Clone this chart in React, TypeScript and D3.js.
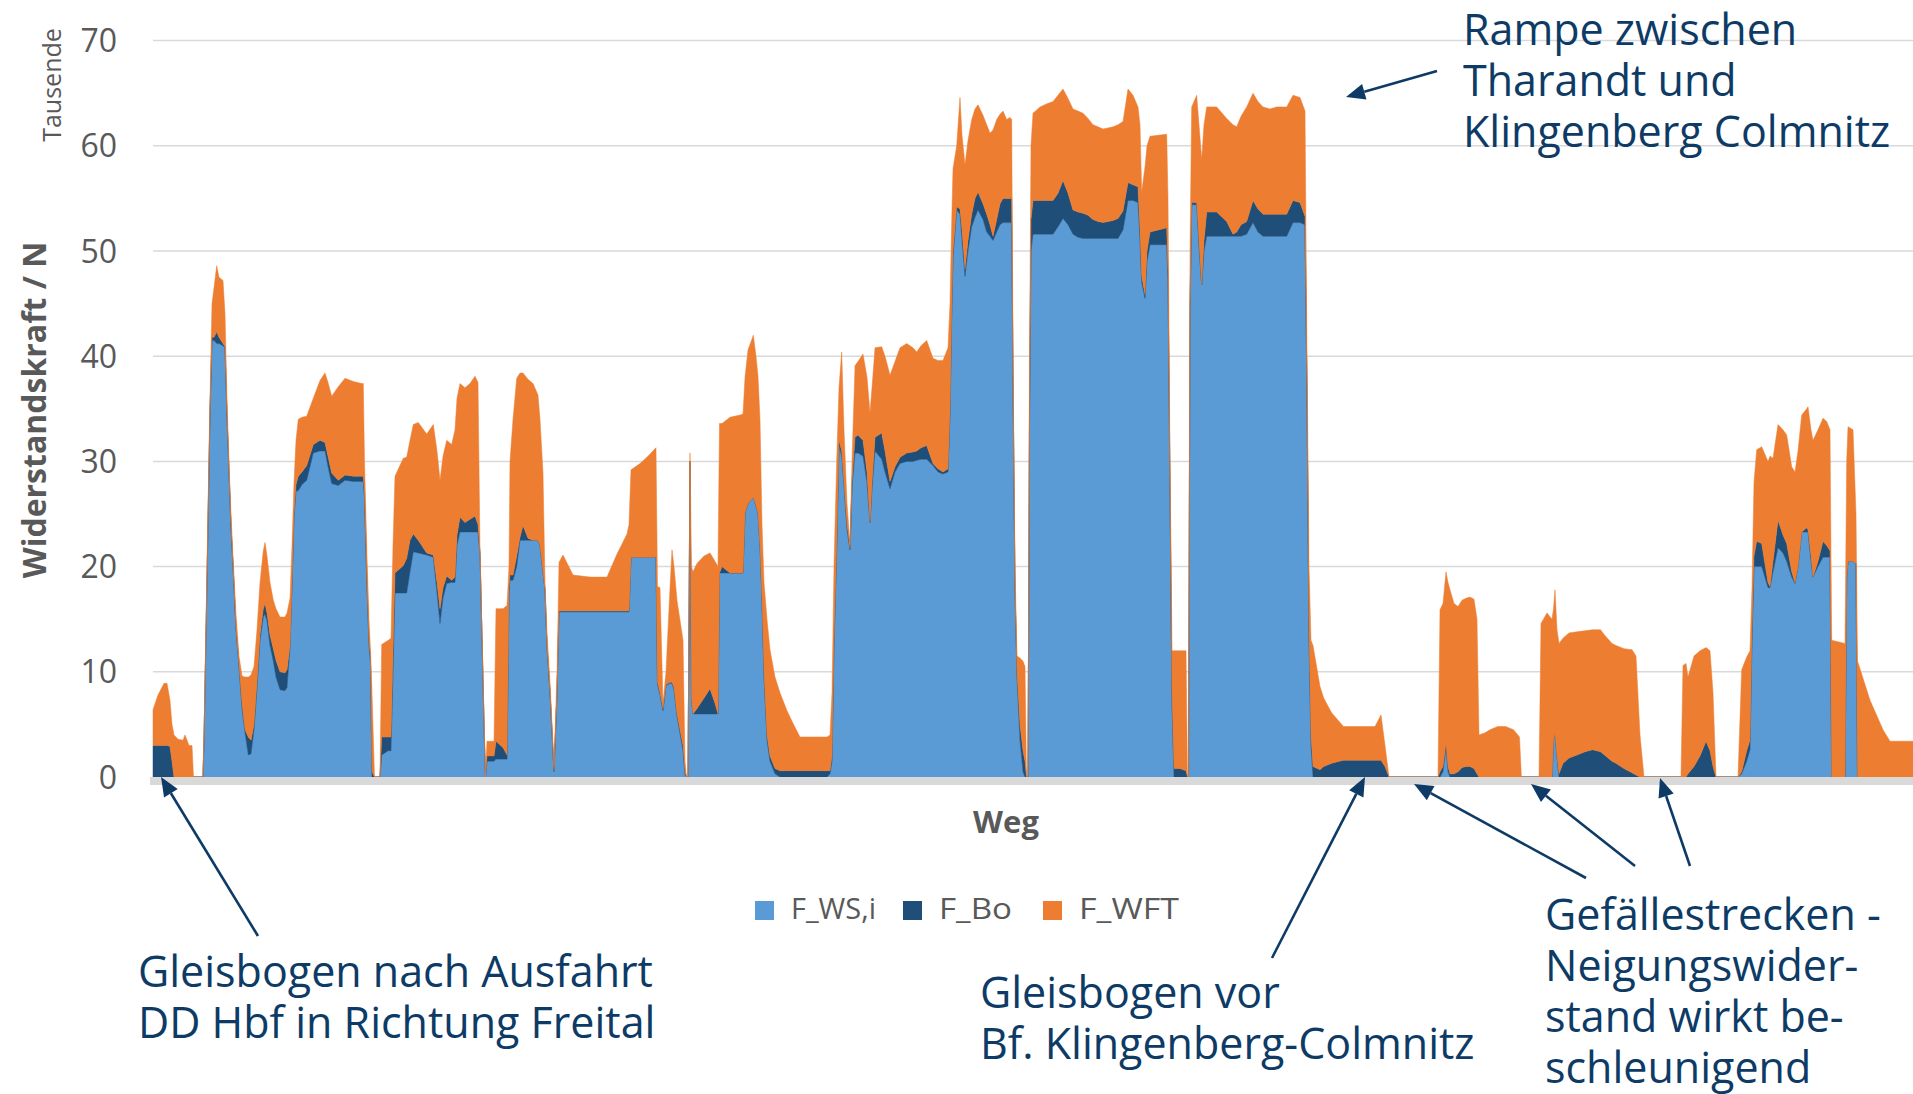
import React, { useEffect } from "react";
import * as d3 from "d3";

// ---------- data (values in thousands of N, "Tausende") ----------
const yTicks = [0, 10, 20, 30, 40, 50, 60, 70];
const seriesNames = ["F_WS,i", "F_Bo", "F_WFT"];
const seriesColors = ["#5b9bd5", "#1f4e79", "#ed7d31"];

const weg = [
  0, 5, 11, 14, 17, 19, 21, 25, 30, 32, 36, 39, 40.5, 50,
  51, 54, 57, 59, 61, 63.7, 66, 70, 72, 74,
  76.3, 78, 80, 83, 86, 89, 92, 95.3, 98, 101,
  104, 107, 110.3, 112, 114, 117, 120.3, 123, 127, 132,
  134, 137, 139, 141, 143, 145.3, 149, 153.7, 160.3, 167,
  172, 175, 178.7, 185.3, 192, 200.3, 208.7, 210.3, 211.5, 214,
  216, 217.5, 219, 221.5, 227,
  228.7, 235.3, 238, 240, 242, 250.3, 253.7, 257, 260.3, 265.3,
  273.7, 280.3, 284, 287, 290, 293.7, 298.7, 302, 304, 307,
  312, 317, 322, 325, 327, 330, 331.5, 332.5,
  334, 341, 343, 350, 354, 356, 357, 360, 363.7, 367, 370,
  375, 380, 385, 387, 390, 392, 394, 397, 401, 404, 406,
  410, 420, 437, 454, 464, 474, 476, 478, 487, 495,
  503, 504.5, 507, 510, 513, 517, 519, 521, 524, 530,
  532, 533.5, 535, 537, 538.5, 540, 544, 551, 557, 562,
  565, 566.5, 569, 577, 587, 590, 592, 595, 600.3, 603,
  605, 607, 609, 611, 614, 617, 622, 627, 634, 640,
  647, 662, 674, 677, 679, 681, 683.7, 686, 688.7, 691,
  694, 697, 699, 702, 705, 710, 714, 717, 719, 722,
  728.7, 732, 737, 742, 747, 753.7, 760, 763.7, 768, 773.7,
  780, 785, 790, 795, 797, 799, 800, 803.7, 807, 809,
  812, 815, 818.7, 822, 825, 830, 833.7, 837, 840, 843.7,
  847, 850, 853.7, 857, 858.7, 860, 862, 864, 867, 870,
  872, 873.5, 875, 876.5, 878, 880, 887, 894, 900, 905,
  910, 915, 920, 925, 930, 935, 940, 945, 950, 955,
  960, 965, 970, 975, 980, 985, 987, 988.7, 992, 994,
  997, 1005, 1013.7, 1015, 1017, 1019, 1021, 1027, 1033, 1034.5,
  1035.5, 1037, 1038.7, 1043.7, 1046, 1048.7, 1051, 1053.7, 1063.7, 1073.7,
  1080, 1083.7, 1088, 1093.7, 1100, 1105, 1110, 1117, 1123.7, 1133.7,
  1140, 1147, 1152, 1154, 1156, 1158, 1160, 1167, 1170.7, 1178.6,
  1190.5, 1207, 1222, 1228, 1232, 1236, 1285, 1287,
  1290, 1293, 1295, 1297, 1301, 1305, 1309, 1313, 1317, 1321,
  1324, 1326, 1332, 1337, 1344.7, 1352.6, 1360.5, 1366.5, 1368.4, 1386,
  1388, 1394, 1399, 1400.5, 1402, 1404, 1406, 1410, 1416, 1424,
  1432, 1439.6, 1447.5, 1451.5, 1459, 1463, 1471, 1479, 1483, 1487,
  1491, 1528, 1530, 1533, 1535, 1541, 1547, 1553, 1557, 1560, 1563, 1585,
  1588.7, 1593.7, 1597, 1599, 1601, 1603.7, 1608.7, 1615, 1617, 1620,
  1625, 1630, 1633.7, 1638.7, 1642, 1645, 1648.7, 1653.7, 1655, 1658,
  1660, 1665, 1670, 1673.7, 1677, 1678.7, 1692, 1693.7, 1695, 1700,
  1703, 1704.5, 1705.3, 1717, 1730, 1737, 1760,
];

const fWS = [
  0, 0, 0, 0, 0, 0, 0, 0, 0, 0, 0, 0, 0, 0,
  3.5, 18.5, 34.5, 41.5, 41.5, 41.2, 41.2, 41.0, 40.8, 34,
  28.2, 23.5, 20, 14, 10.5, 6.5, 4.2, 2.1, 2.2, 4.5,
  8.5, 13, 15.2, 15.5, 14.8, 12.5, 11.0, 9.5, 8.3, 8.2,
  8.5, 12.3, 18.3, 24.8, 27.2, 27.2, 27.8, 28.2, 30.8, 31.0,
  31.0, 29.5, 27.9, 27.7, 28.2, 28.1, 28.1, 28.1, 26.5, 18,
  12.5, 10.8, 0, 0, 0,
  2.1, 2.5, 2.5, 10, 17.5, 17.5, 17.5, 19.5, 21.4, 21.3,
  21.1, 20.9, 17.5, 14.6, 17, 18.4, 18.5, 18.5, 22, 23.3,
  23.3, 23.3, 23.3, 23.3, 21.2, 9.0, 3.0, 0,
  1.5, 1.5, 1.7, 1.7, 1.7, 17.5, 18.7, 18.7, 20, 22.5, 22.5,
  22.5, 22.5, 22.5, 22, 19.5, 17.8, 12.3, 8.0, 0.5, 8, 15.7,
  15.7, 15.7, 15.7, 15.7, 15.7, 15.7, 15.7, 20.9, 20.9, 20.9,
  20.9, 8.8, 7.8, 6.3, 8.7, 8.9, 8.9, 8.3, 5.8, 2.5,
  0.2, 0, 0, 30.0, 7.5, 6.0, 6.0, 6.0, 6.0, 6.0,
  6.0, 19.4, 19.4, 19.4, 19.4, 19.4, 25.1, 26, 26.6, 25.8,
  25.1, 22, 17, 9.5, 3.5, 1.5, 0.3, 0, 0, 0,
  0, 0, 0, 0.3, 1.5, 12.5, 21.7, 31.5, 30.5, 27.8,
  23.5, 21.6, 27.5, 30.8, 30.8, 30.5, 28, 24.2, 27.5, 31.0,
  30.2, 29, 27.4, 29, 29.8, 30.0, 30.0, 30.1, 30.2, 30.2,
  29.6, 29.0, 28.8, 29.0, 34.5, 45.5, 49.5, 53.9, 53.5, 51,
  47.6, 50, 52.3, 53.2, 53.9, 53.0, 51.8, 51.4, 51.0, 51.8,
  52.5, 52.7, 52.7, 52.7, 52.7, 37.5, 17.5, 9.5, 3.5, 0.5,
  0, 0, 0, 34, 50, 51.6, 51.6, 51.6, 51.6, 52.3,
  53.1, 52.5, 51.6, 51.3, 51.2, 51.2, 51.2, 51.2, 51.2, 51.2,
  51.2, 51.2, 52.0, 54.8, 54.8, 54.6, 51, 47, 45.5, 49,
  50.6, 50.6, 50.6, 47, 27, 7, 0, 0, 0, 0,
  0, 44, 54.4, 54.4, 50.5, 46.8, 50, 51.4, 51.4, 51.4,
  51.4, 51.4, 51.4, 51.6, 52.7, 51.8, 51.4, 51.4, 51.4, 51.4,
  52.7, 52.7, 52.5, 36, 13, 3, 0, 0, 0, 0,
  0, 0, 0, 0, 0, 0, 0, 0,
  0.5, 2.9, 0.5, 0, 0, 0, 0, 0, 0, 0,
  0, 0, 0, 0, 0, 0, 0, 0, 0, 0,
  0, 0, 0, 3.5, 4.1, 2, 0, 0, 0, 0,
  0, 0, 0, 0, 0, 0, 0, 0, 0, 0,
  0, 0, 0, 0, 0, 0, 0, 0, 0, 0, 0, 0,
  0.3, 1.5, 2.6, 13, 20, 20.0, 20.0, 18.0, 18.0, 19.5,
  21.8, 21.3, 20.5, 19, 18.4, 20, 23.3, 23.3, 23.3, 20.5,
  19.0, 20.0, 20.9, 20.9, 20.9, 0, 0, 19, 20.5, 20.5,
  20.3, 0, 0, 0, 0, 0, 0,
];

const fBo = [
  3.0, 3.0, 3.0, 3.0, 2.9, 1.5, 0, 0, 0, 0, 0, 0, 0, 0,
  0, 0.5, 0.5, 0.3, 0.3, 1.1, 0.6, 0.2, 0.1, 0.5,
  0.2, 0.5, 0.2, 0.2, 0.2, 0.5, 0.3, 1.7, 1.3, 0.5,
  0.5, 0.5, 0.8, 1.0, 0.8, 1.0, 1.2, 1.6, 1.7, 1.7,
  1.7, 0.2, 0.2, 0.2, 0.6, 1.4, 1.2, 1.4, 0.8, 1.0,
  0.8, 1.0, 1.0, 0.5, 0.5, 0.5, 0.5, 0.5, 0.5, 0.5,
  0.5, 0.5, 0.5, 0, 0,
  1.7, 1.3, 1.3, 2, 1.9, 2.6, 3.3, 3.0, 1.7, 1.2,
  0.2, 0.2, 1.0, 1.4, 1.0, 0.7, 0.2, 0.5, 1.0, 1.4,
  0.9, 1.2, 1.5, 0.7, 0.1, 0.3, 0.2, 0,
  0.5, 0.5, 1.7, 1.1, 0.4, 0.5, 0.5, 0.5, 1.0, 0.3, 1.4,
  0.2, 0, 0, 0, 0, 0, 0.2, 0.2, 0.1, 0, 0.1,
  0.1, 0.1, 0.1, 0.1, 0.1, 0.1, 0.1, 0, 0, 0,
  0, 0.2, 0.2, 0.2, 0.1, 0.1, 0.1, 0.2, 0.2, 0.5,
  0.3, 0, 0, 0, 0, 0, 0.5, 1.5, 2.4, 1.0,
  0, 0, 0.6, 0, 0, 0, 0, 0, 0, 0,
  0, 0, 0, 0.5, 0.5, 0.5, 0.5, 0.6, 0.6, 0.6,
  0.6, 0.6, 0.6, 0.3, 0.5, 0.5, 0.3, 0.5, 0.5, 0.2,
  0.5, 0.2, 0.5, 1.5, 1.7, 1.5, 1.0, 0, 0.5, 1.3,
  2.5, 2.0, 0.7, 0.5, 0.6, 0.8, 0.9, 0.9, 1.1, 1.3,
  0.2, 0.3, 0.2, 0.3, 0.5, 0.5, 0.5, 0.3, 0.5, 1.0,
  0.7, 1.0, 1.2, 1.8, 1.7, 1.5, 1.7, 1.1, 0.4, 1.2,
  2.0, 2.3, 2.3, 2.3, 2.3, 0.5, 0.5, 0.5, 1.5, 2.0,
  1.5, 0, 0, 1, 3, 3.2, 3.2, 3.2, 3.2, 3.2,
  3.6, 3.0, 2.3, 2.4, 2.4, 2.2, 1.8, 1.6, 1.5, 1.6,
  1.7, 1.9, 1.8, 1.7, 1.5, 1.5, 1.0, 0.6, 0.4, 1.0,
  1.2, 1.4, 1.6, 1, 1, 1, 0.8, 0.8, 0.6, 0,
  0, 1, 0.2, 0.2, 0.5, 0, 1, 2.3, 2.3, 1.4,
  0.2, 0.4, 1.1, 1.2, 2.1, 2.2, 2.1, 2.1, 2.1, 2.1,
  2.1, 1.9, 0.8, 1, 1, 1, 1.0, 0.7, 1.0, 1.3,
  1.6, 1.6, 1.6, 1.6, 1.0, 0, 0, 0.5,
  0.5, 0.3, 0.5, 0.3, 0.3, 0.5, 0.9, 1.0, 1.0, 0.8,
  0.3, 0, 0, 0, 0, 0, 0, 0, 0, 0,
  0, 0, 0, 0, 0, 0, 0.3, 1.3, 1.8, 2.1,
  2.4, 2.6, 2.4, 2.1, 1.5, 1.3, 0.8, 0.4, 0.2, 0,
  0, 0, 0, 0, 0.3, 1.0, 2.0, 3.4, 2.5, 1, 0, 0,
  0.2, 1.0, 0.9, 1, 1, 2.4, 2.2, 0.5, 0.1, 1.0,
  2.6, 1.7, 1.7, 0.5, 0.1, 0, 0, 0.4, 0.2, 0.5,
  0, 0.5, 1.5, 1.1, 0.6, 0, 0, 0, 0, 0,
  0, 0, 0, 0, 0, 0, 0,
];

const fWFT = [
  3.4, 4.8, 5.9, 5.9, 4.4, 3.5, 4.0, 3.6, 3.5, 4.0, 3.0, 3.0, 0, 0,
  0.5, 1.0, 1.0, 3.2, 4.7, 6.3, 5.7, 6.0, 3.1, 1.5,
  0.6, 1.0, 0.8, 1.3, 0.8, 2.6, 5.0, 5.7, 6.2, 5.5,
  5.0, 5.0, 5.5, 5.8, 5.4, 5.0, 4.6, 4.9, 5.2, 5.3,
  5.4, 4.5, 3.5, 3.0, 4.2, 5.4, 5.2, 4.7, 4.4, 5.7,
  6.6, 7.0, 7.3, 8.9, 9.2, 9.0, 8.8, 8.8, 3.0, 2.5,
  2.0, 0.7, 7.5, 0, 0,
  8.8, 9.2, 9.4, 10, 9.2, 10.2, 9.6, 9.5, 10.4, 11.2,
  11.3, 12.4, 12.5, 12.2, 12.5, 12.9, 12.9, 14.0, 13.0, 12.7,
  12.8, 12.9, 13.3, 13.5, 0.2, 0.3, 0.3, 0,
  1.4, 1.4, 12.6, 13.2, 14.2, 2, 10.8, 14.8, 16.9, 15.6, 14.5,
  15.1, 14.9, 13.8, 12, 9.4, 0.7, 1.2, 0.8, 0.4, 2, 4.6,
  5.3, 3.4, 3.2, 3.2, 5.4, 7.3, 8.2, 8.3, 8.9, 9.6,
  10.4, 9.1, 10.0, 0.5, 1.2, 9.0, 12.6, 11.5, 10.8, 10.0,
  1.0, 0, 0, 0.8, 12.5, 13.5, 13.8, 13.5, 12.9, 13.5,
  14.0, 14.2, 13.6, 14.8, 15.0, 15.1, 12.9, 14.6, 15.4, 14.2,
  13.0, 12, 7, 8.5, 11, 10.1, 8.7, 7.4, 5.7, 4.5,
  3.2, 3.2, 3.2, 3.4, 6, 7, 8.0, 5.0, 9.4, 5.0,
  2.0, 0.3, 2.0, 6.8, 7.0, 8.2, 9.0, 10.4, 9.0, 8.5,
  8.2, 9.0, 10.1, 10.0, 10.4, 10.4, 9.9, 9.4, 9.7, 10.0,
  10.0, 10.3, 10.6, 11.5, 10, 8, 7.8, 5.8, 10.6, 9.0,
  9.9, 9.5, 9.0, 8.5, 8.3, 8.4, 8.5, 8.7, 10.1, 9.5,
  8.5, 8.3, 7.5, 7.7, 7.5, 2, 2, 1.5, 6.3, 8.5,
  9.0, 0, 0, 5, 7, 8.3, 8.9, 9.2, 9.4, 9.3,
  8.7, 9.0, 9.6, 9.6, 9.5, 9.2, 9.0, 9.0, 8.9, 8.9,
  8.9, 8.9, 8.5, 8.9, 8.5, 7.6, 10, 8.0, 12.1, 10,
  9.1, 9.0, 8.9, 7, 2, 4, 11.2, 11.2, 11.4, 0,
  0, 5, 9.1, 10.2, 11, 11.9, 11, 10.0, 10.0, 9.8,
  10.4, 10.0, 10.3, 10.9, 10.2, 10.2, 10.2, 10.0, 10.2, 10.2,
  10.0, 10.0, 10.0, 3, 6, 9, 11.5, 7.9, 6.5, 4.8,
  3.2, 3.2, 3.2, 4.3, 2.0, 0, 0, 15.4,
  15.5, 16.3, 17.5, 17.5, 16.2, 15.7, 15.9, 16.0, 16.1, 16.1,
  14.7, 4.0, 4.2, 4.5, 4.8, 4.8, 4.5, 3.8, 0, 0,
  14.6, 15.6, 15.0, 12.5, 13.7, 12, 12.4, 11.9, 11.9, 11.7,
  11.5, 11.4, 11.6, 11.4, 11.2, 11.2, 11.4, 11.7, 11.3, 4.0,
  0, 0, 10.6, 10.8, 9.2, 10.5, 10.0, 8.9, 9.5, 7, 0, 0,
  9.7, 8.9, 8.5, 4, 7, 8.7, 9.2, 11.5, 12.4, 9.8,
  9.1, 10.0, 10.3, 10.0, 10.5, 11, 11.1, 11.3, 11.7, 12,
  13.0, 12.5, 11.7, 11.8, 11.5, 13, 12.7, 11, 12.8, 12.5,
  4.7, 11, 10.8, 7.3, 4.5, 3.4, 3.4,
];

// ---------- annotations ----------
const NAVY = "#0d3b66";
const GRAY = "#595959";
const FONT = "'Open Sans', 'Noto Sans', sans-serif";

const annotations = [
  { x: 1463, y: 45, lines: ["Rampe zwischen", "Tharandt und", "Klingenberg Colmnitz"] },
  { x: 138, y: 987, lines: ["Gleisbogen nach Ausfahrt", "DD Hbf in Richtung Freital"] },
  { x: 980, y: 1008, lines: ["Gleisbogen vor", "Bf. Klingenberg-Colmnitz"] },
  { x: 1545, y: 930, lines: ["Gefällestrecken -", "Neigungswider-", "stand wirkt be-", "schleunigend"] },
];

const arrows = [
  { from: [1437, 71], to: [1346, 97] },
  { from: [258, 936], to: [161, 777] },
  { from: [1272, 958], to: [1365, 777] },
  { from: [1586, 878], to: [1414, 784] },
  { from: [1635, 866], to: [1531, 784] },
  { from: [1690, 866], to: [1660, 778] },
];

function Arrow({ from, to }: { from: number[]; to: number[] }) {
  const [x1, y1] = from;
  const [x2, y2] = to;
  const ang = Math.atan2(y2 - y1, x2 - x1);
  const L = 19;
  const hw = 8;
  const bx = x2 - L * Math.cos(ang);
  const by = y2 - L * Math.sin(ang);
  const px = -Math.sin(ang) * hw;
  const py = Math.cos(ang) * hw;
  return (
    <g>
      <line x1={x1} y1={y1} x2={bx} y2={by} stroke={NAVY} strokeWidth={2.6} />
      <polygon points={`${x2},${y2} ${bx + px},${by + py} ${bx - px},${by - py}`} fill={NAVY} />
    </g>
  );
}

export default function App() {
  useEffect(() => {
    document.body.style.margin = "0";
    document.body.style.overflow = "hidden";
  }, []);

  const width = 1913;
  const height = 1094;
  const x = d3.scaleLinear().domain([0, 1760]).range([153, 1913]);
  const y = d3.scaleLinear().domain([0, 70]).range([777, 40.6]);

  const n = Math.min(weg.length, fWS.length, fBo.length, fWFT.length);
  const rows = d3.range(n).map((i) => ({ weg: weg[i], ws: fWS[i], bo: fBo[i], wft: fWFT[i] }));
  const layers = d3.stack<any>().keys(["ws", "bo", "wft"])(rows);
  const area = d3
    .area<any>()
    .x((d: any) => x(d.data.weg))
    .y0((d: any) => y(d[0]))
    .y1((d: any) => y(d[1]))
    .curve(d3.curveLinear);

  const legendX = [755, 903, 1043];
  const legendTextW = [85, 73, 100];

  return (
    <svg
      width={width}
      height={height}
      style={{ position: "absolute", left: 0, top: 0, display: "block", background: "#fff" }}
      fontFamily={FONT}
    >
      <rect x={0} y={0} width={width} height={height} fill="#ffffff" />
      {yTicks.filter((t) => t > 0).map((t) => (
        <line key={t} x1={153} x2={1913} y1={y(t)} y2={y(t)} stroke="#d9d9d9" strokeWidth={1.5} />
      ))}
      {layers.map((layer, i) => (
        <path
          key={i}
          d={area(layer as any) || ""}
          fill={seriesColors[i]}
          stroke={seriesColors[i]}
          strokeWidth={0.5}
          strokeLinejoin="round"
        />
      ))}
      <rect x={150} y={777} width={1763} height={8} fill="#d9d9d9" />
      {yTicks.map((t) => (
        <text key={t} x={117} y={y(t)} dy="0.36em" textAnchor="end" fontSize={32} fill={GRAY}>
          {t}
        </text>
      ))}
      <text transform="translate(61,85) rotate(-90)" textAnchor="middle" fontSize={25} fill={GRAY}>
        Tausende
      </text>
      <text
        transform="translate(46,410) rotate(-90)"
        textAnchor="middle"
        fontSize={32}
        fontWeight="bold"
        fill={GRAY}
      >
        Widerstandskraft / N
      </text>
      <text x={1006} y={833} textAnchor="middle" fontSize={31} fontWeight="bold" fill={GRAY}>
        Weg
      </text>
      {seriesNames.map((name, i) => (
        <g key={name}>
          <rect x={legendX[i]} y={901} width={19} height={19} fill={seriesColors[i]} />
          <text
            x={legendX[i] + 36}
            y={919}
            fontSize={29}
            fill={GRAY}
            textLength={legendTextW[i]}
            lengthAdjust="spacingAndGlyphs"
          >
            {name}
          </text>
        </g>
      ))}
      {annotations.map((a, i) => (
        <text key={i} x={a.x} y={a.y} fontSize={43} fill={NAVY}>
          {a.lines.map((l, j) => (
            <tspan key={j} x={a.x} y={a.y + j * 51}>
              {l}
            </tspan>
          ))}
        </text>
      ))}
      {arrows.map((a, i) => (
        <Arrow key={i} from={a.from} to={a.to} />
      ))}
    </svg>
  );
}
